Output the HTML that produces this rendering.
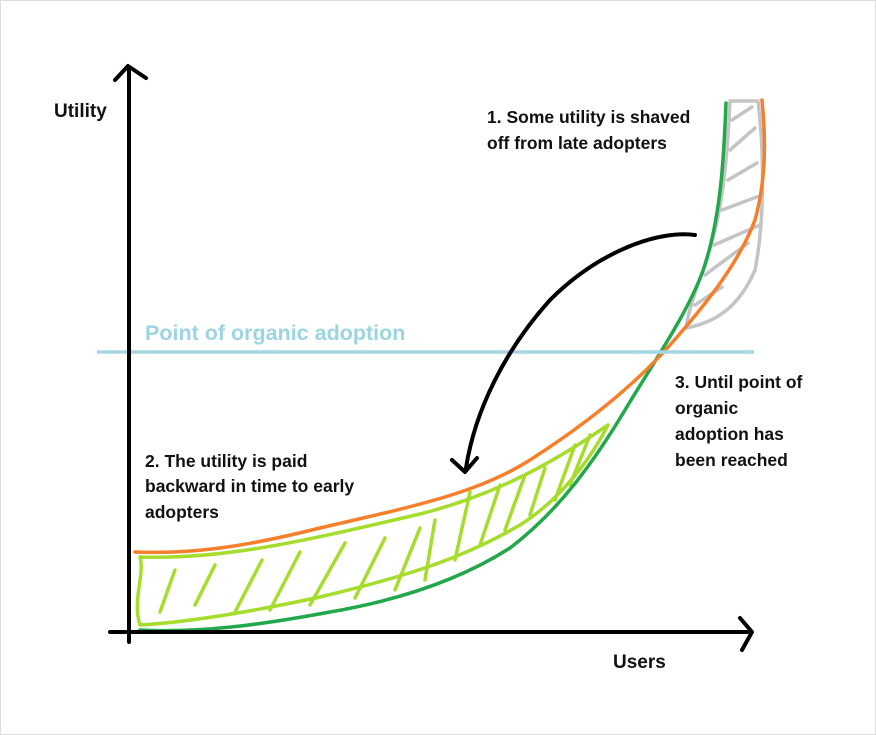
<!DOCTYPE html>
<html><head><meta charset="utf-8"><style>
html,body{margin:0;padding:0;background:#fff}
svg{display:block}
text{font-family:"Liberation Sans",sans-serif;font-weight:bold;fill:#111;font-size:17.5px}
</style></head><body>
<svg width="876" height="735" viewBox="0 0 876 735">
<rect x="0.5" y="0.5" width="875" height="734" fill="#fff" stroke="#ddd"/>
<!-- lime region -->
<g fill="none" stroke="#a6dc2c" stroke-width="3.5" stroke-linecap="round" stroke-linejoin="round">
<path d="M140,557 C230,560 320,537 420,514 C500,494 560,458 608,425 C590,460 560,500 520,525 C460,560 400,578 320,597 C250,612 190,622 140,625 C132,600 145,575 140,557 Z"/>
<path d="M160,612 L175,570 M195,605 L215,565 M235,612 L262,560 M270,610 L300,552 M310,605 L345,543 M355,598 L385,538 M395,590 L420,528 M425,580 L435,520 M455,560 L470,492 M480,545 L500,485 M505,530 L525,475 M530,515 L545,468 M555,500 L575,445 M570,485 L590,435"/>
</g>
<!-- gray region -->
<g fill="none" stroke="#c4c4c4" stroke-width="3.5" stroke-linecap="round" stroke-linejoin="round">
<path d="M730,101 L758,101 C764,150 765,220 755,270 C740,305 718,322 686,328 C690,300 705,270 715,230 C725,190 728,140 730,101 Z"/>
<path d="M732,120 L752,107 M730,150 L755,128 M728,180 L757,163 M722,210 L762,195 M714,245 L760,225 M705,275 L748,243 M695,305 L722,287"/>
</g>
<!-- green curve -->
<path d="M140,630 C200,633 260,625 330,612 C400,600 460,580 510,548 C560,510 595,460 625,410 C655,360 690,310 705,265 C722,210 724,150 726,103" fill="none" stroke="#22a84a" stroke-width="3.5" stroke-linecap="round"/>
<!-- orange curve -->
<path d="M135,552 C190,554 240,548 320,528 C420,505 480,492 530,460 C580,428 630,390 670,345 C710,300 740,260 755,220 C766,180 766,140 762,100" fill="none" stroke="#f57f2a" stroke-width="3.5" stroke-linecap="round"/>
<!-- blue line -->
<line x1="97" y1="352" x2="754" y2="352" stroke="#a5d6e2" stroke-width="3.5"/>
<text x="145" y="340" style="fill:#9dd4e2;font-size:21.5px">Point of organic adoption</text>
<!-- axes -->
<g fill="none" stroke="#000" stroke-width="4" stroke-linecap="round" stroke-linejoin="round">
<line x1="129" y1="68" x2="129" y2="642"/>
<path d="M115,80 L128,66 L146,78"/>
<line x1="110" y1="632" x2="750" y2="632"/>
<path d="M740,618 L752,632 L742,650"/>
<path d="M695,235 C660,230 600,250 550,300 C505,350 475,410 466,468"/>
<path d="M452,460 L465,472 L477,458"/>
</g>
<text x="54" y="117" style="font-size:19px">Utility</text>
<text x="613" y="668" style="font-size:19px">Users</text>
<text x="487" y="123">1. Some utility is shaved</text>
<text x="487" y="149">off from late adopters</text>
<text x="145" y="467">2. The utility is paid</text>
<text x="145" y="492">backward in time to early</text>
<text x="145" y="518">adopters</text>
<text x="675" y="388">3. Until point of</text>
<text x="675" y="414">organic</text>
<text x="675" y="440">adoption has</text>
<text x="675" y="466">been reached</text>
</svg>
</body></html>
